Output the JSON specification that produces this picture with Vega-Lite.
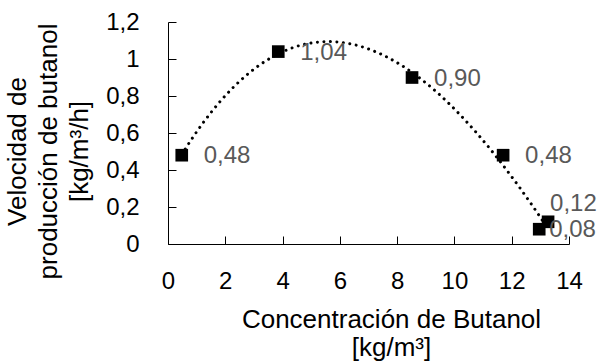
{
  "$schema": "https://vega.github.io/schema/vega-lite/v6.json",
  "autosize": {"type": "none"},
  "width": 401,
  "height": 222,
  "padding": {"left": 168, "top": 22, "right": 31, "bottom": 118},
  "config": {
    "locale": {"number": {"decimal": ",", "thousands": ".", "grouping": [3], "currency": ["", " €"]}},
    "view": {"stroke": null},
    "font": "Liberation Sans",
    "axis": {
      "grid": false,
      "domainColor": "#000000",
      "domainWidth": 1,
      "labelColor": "#000000",
      "titleColor": "#000000",
      "labelFont": "Liberation Sans",
      "titleFont": "Liberation Sans",
      "labelFontSize": 24,
      "titleFontSize": 26,
      "titleFontWeight": "normal",
      "labelOverlap": false,
      "labelFlush": false
    },
    "axisX": {"ticks": true, "tickColor": "#000000", "tickWidth": 1, "tickSize": -8, "labelPadding": 33, "tickCount": 8},
    "axisY": {"ticks": true, "tickColor": "#000000", "tickWidth": 1, "tickSize": -8, "labelPadding": 37, "tickCount": 7, "labelOverlap": false}
  },
  "data": {
    "values": [
      {"x": 0.48, "y": 0.48},
      {"x": 3.85, "y": 1.04},
      {"x": 8.52, "y": 0.90},
      {"x": 11.7, "y": 0.48},
      {"x": 13.27, "y": 0.12},
      {"x": 12.96, "y": 0.08}
    ]
  },
  "layer": [
    {
      "mark": {"type": "point", "shape": "square", "filled": true, "color": "#000000", "size": 160, "opacity": 1},
      "encoding": {
        "x": {"field": "x", "type": "quantitative", "scale": {"domain": [0, 14]},
          "axis": {"values": [0, 2, 4, 6, 8, 10, 12, 14], "tickSize": -8, "labelPadding": 33, "labelOverlap": false, "ticks": true, "tickColor": "#000000",
            "title": ["Concentración de Butanol", "[kg/m³]"], "titleLineHeight": 28, "titleX": 223, "titleY": 83, "titleBaseline": "alphabetic", "titleAlign": "center"}},
        "y": {"field": "y", "type": "quantitative", "scale": {"domain": [0, 1.2]},
          "axis": {"values": [0, 0.2, 0.4, 0.6, 0.8, 1, 1.2], "format": ".1~f", "tickSize": -8, "labelPadding": 37, "labelOverlap": false, "ticks": true, "tickColor": "#000000",
            "title": ["Velocidad de", "producción de butanol", "[kg/m³/h]"], "titleLineHeight": 31, "titleX": -151, "titleY": 129, "titleBaseline": "middle", "titleAlign": "center", "titleAngle": -90}}
      }
    },
    {
      "transform": [{"regression": "y", "on": "x", "method": "poly", "order": 3}],
      "mark": {"type": "line", "color": "#000000", "strokeWidth": 3, "strokeCap": "round", "strokeDash": [0.01, 6.5]},
      "encoding": {
        "x": {"field": "x", "type": "quantitative"},
        "y": {"field": "y", "type": "quantitative"}
      }
    },
    {
      "transform": [{"filter": "datum.y != 0.12 && datum.y != 0.08"}],
      "mark": {"type": "text", "align": "left", "baseline": "middle", "dx": 22, "dy": 1, "fontSize": 24, "color": "#595959", "font": "Liberation Sans"},
      "encoding": {
        "x": {"field": "x", "type": "quantitative"},
        "y": {"field": "y", "type": "quantitative"},
        "text": {"field": "y", "type": "quantitative", "format": ".2f"}
      }
    },
    {
      "transform": [{"filter": "datum.y == 0.12"}],
      "mark": {"type": "text", "align": "left", "baseline": "middle", "dx": 2, "dy": -18, "fontSize": 24, "color": "#595959", "font": "Liberation Sans"},
      "encoding": {
        "x": {"field": "x", "type": "quantitative"},
        "y": {"field": "y", "type": "quantitative"},
        "text": {"field": "y", "type": "quantitative", "format": ".2f"}
      }
    },
    {
      "transform": [{"filter": "datum.y == 0.08"}],
      "mark": {"type": "text", "align": "left", "baseline": "middle", "dx": 10, "dy": 1, "fontSize": 24, "color": "#595959", "font": "Liberation Sans"},
      "encoding": {
        "x": {"field": "x", "type": "quantitative"},
        "y": {"field": "y", "type": "quantitative"},
        "text": {"field": "y", "type": "quantitative", "format": ".2f"}
      }
    }
  ]
}
